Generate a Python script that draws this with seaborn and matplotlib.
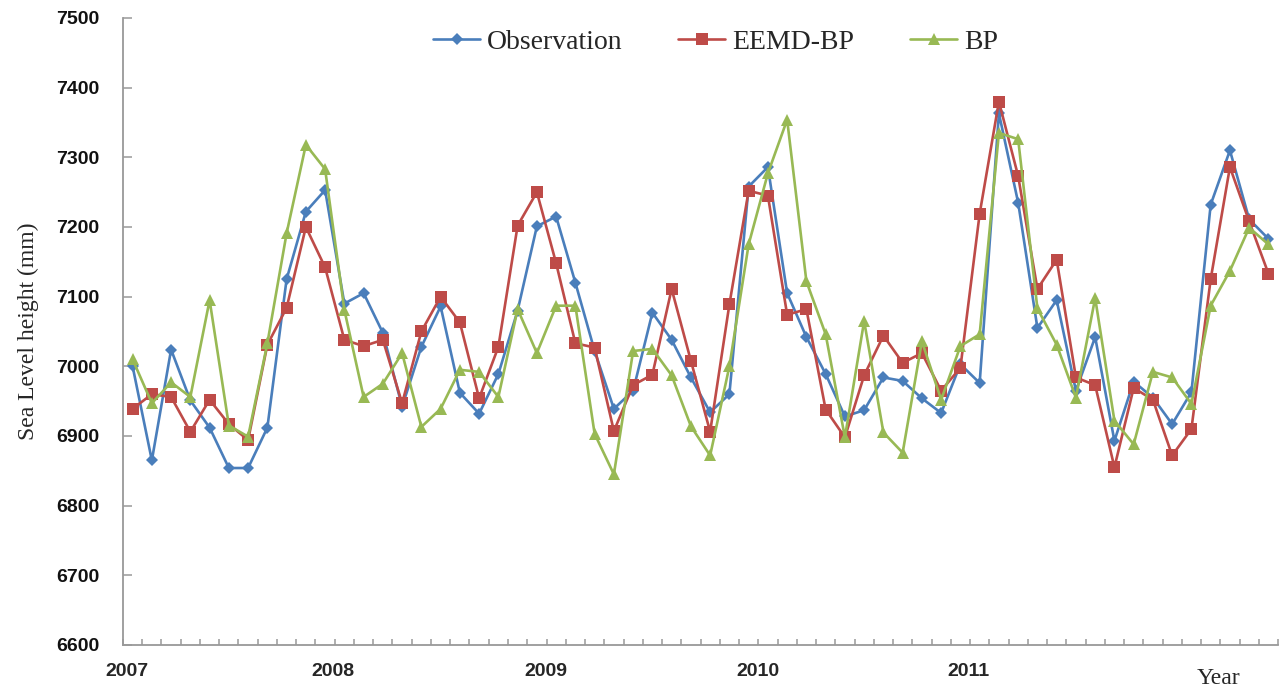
import numpy as np
import pandas as pd
import matplotlib
matplotlib.use("Agg")
import matplotlib.pyplot as plt
import matplotlib.transforms as mtransforms
import seaborn as sns

# ---------------- data ----------------
observation = [7000, 6865, 7024, 6951, 6912, 6854, 6854, 6912, 7125, 7222, 7253, 7090,
               7105, 7048, 6942, 7028, 7086, 6962, 6932, 6989, 7080, 7201, 7215, 7120,
               7022, 6939, 6965, 7077, 7038, 6984, 6934, 6960, 7258, 7286, 7105, 7042,
               6989, 6928, 6937, 6984, 6979, 6954, 6933, 7003, 6976, 7363, 7235, 7055,
               7095, 6965, 7042, 6893, 6978, 6955, 6917, 6963, 7232, 7310, 7211, 7183]
eemd_bp = [6939, 6960, 6956, 6906, 6952, 6917, 6894, 7031, 7084, 7200, 7142, 7038,
           7029, 7038, 6947, 7050, 7100, 7063, 6954, 7028, 7202, 7250, 7148, 7033,
           7027, 6907, 6973, 6988, 7111, 7008, 6906, 7089, 7252, 7245, 7074, 7082,
           6938, 6898, 6987, 7044, 7005, 7019, 6965, 6998, 7219, 7380, 7273, 7111,
           7153, 6984, 6973, 6855, 6969, 6952, 6872, 6910, 7125, 7286, 7208, 7133]
bp = [7010, 6947, 6977, 6956, 7095, 6915, 6899, 7033, 7191, 7318, 7283, 7081,
      6956, 6975, 7019, 6913, 6939, 6995, 6992, 6956, 7082, 7019, 7087, 7087,
      6903, 6845, 7022, 7025, 6987, 6914, 6872, 7000, 7175, 7277, 7354, 7122,
      7046, 6898, 7065, 6905, 6876, 7036, 6952, 7029, 7046, 7335, 7326, 7083,
      7031, 6955, 7098, 6922, 6888, 6992, 6984, 6946, 7087, 7137, 7199, 7175]
series_names = ["Observation", "EEMD-BP", "BP"]
year_labels = ["2007", "2008", "2009", "2010", "2011"]
y_ticks = [6600, 6700, 6800, 6900, 7000, 7100, 7200, 7300, 7400, 7500]

n = len(observation)
month_index = np.arange(n)
df = pd.DataFrame({
    "month": np.tile(month_index, 3),
    "value": observation + eemd_bp + bp,
    "series": np.repeat(series_names, n),
})

# ---------------- style ----------------
sns.set_theme(style="white")
plt.rcParams["font.family"] = ["Liberation Serif", "DejaVu Serif"]

colors = {"Observation": "#4A7EBB", "EEMD-BP": "#BE4B48", "BP": "#98B954"}
markers = {"Observation": "D", "EEMD-BP": "s", "BP": "^"}

fig = plt.figure(figsize=(12.81, 6.89), dpi=100)
ax = fig.add_axes([0.096, 0.0639, 0.9017, 0.91])

sns.lineplot(data=df, x="month", y="value", hue="series", style="series",
             hue_order=series_names, style_order=series_names,
             palette=colors, markers=markers, dashes=False,
             linewidth=1.9, markersize=8, markeredgewidth=0,
             ax=ax, legend=True)

for line in ax.get_lines():
    if line.get_marker() == "D":
        line.set_markersize(6.5)
    elif line.get_marker() == "s":
        line.set_markersize(8.5)
    elif line.get_marker() == "^":
        line.set_markersize(9)

ax.set_xlim(-0.5, n - 0.5)
ax.set_ylim(6600, 7500)
ax.set_yticks(y_ticks)
ax.set_yticklabels([str(v) for v in y_ticks], fontfamily="Liberation Sans",
                   fontweight="bold", fontsize=14, color="#111111")
ax.set_xticks(np.arange(-0.5, n, 1.0))
ax.set_xticklabels([])
ax.tick_params(axis="y", direction="in", length=6.5, width=1.1, color="#999999", pad=17, left=True)
ax.tick_params(axis="x", direction="in", length=4.5, width=1.1, color="#999999", bottom=True)

for s in ["top", "right"]:
    ax.spines[s].set_visible(False)
for s in ["left", "bottom"]:
    ax.spines[s].set_color("#999999")
    ax.spines[s].set_linewidth(1.3)

ax.set_xlabel("")
ax.set_ylabel("Sea Level height (mm)", fontsize=17, labelpad=12)

# year labels under axis
trans = mtransforms.blended_transform_factory(ax.transData, ax.transAxes)
year_pos = [-0.27, 10.41, 21.47, 32.49, 43.4]
for pos, lab in zip(year_pos, year_labels):
    ax.text(pos, -0.043, lab, transform=trans, ha="center", va="center",
            fontfamily="Liberation Sans", fontweight="bold", fontsize=14)
ax.text(56.4, -0.053, "Year", transform=trans, ha="center", va="center", fontsize=17)

# legend
handles, labels = ax.get_legend_handles_labels()
leg = ax.legend(handles, labels, loc="center", bbox_to_anchor=(0.513, 0.962),
                ncol=3, frameon=False, fontsize=20, handlelength=1.7,
                handletextpad=0.25, columnspacing=2.0)
for h in leg.legend_handles:
    h.set_linewidth(1.9)

fig.savefig("out.png", dpi=100)
